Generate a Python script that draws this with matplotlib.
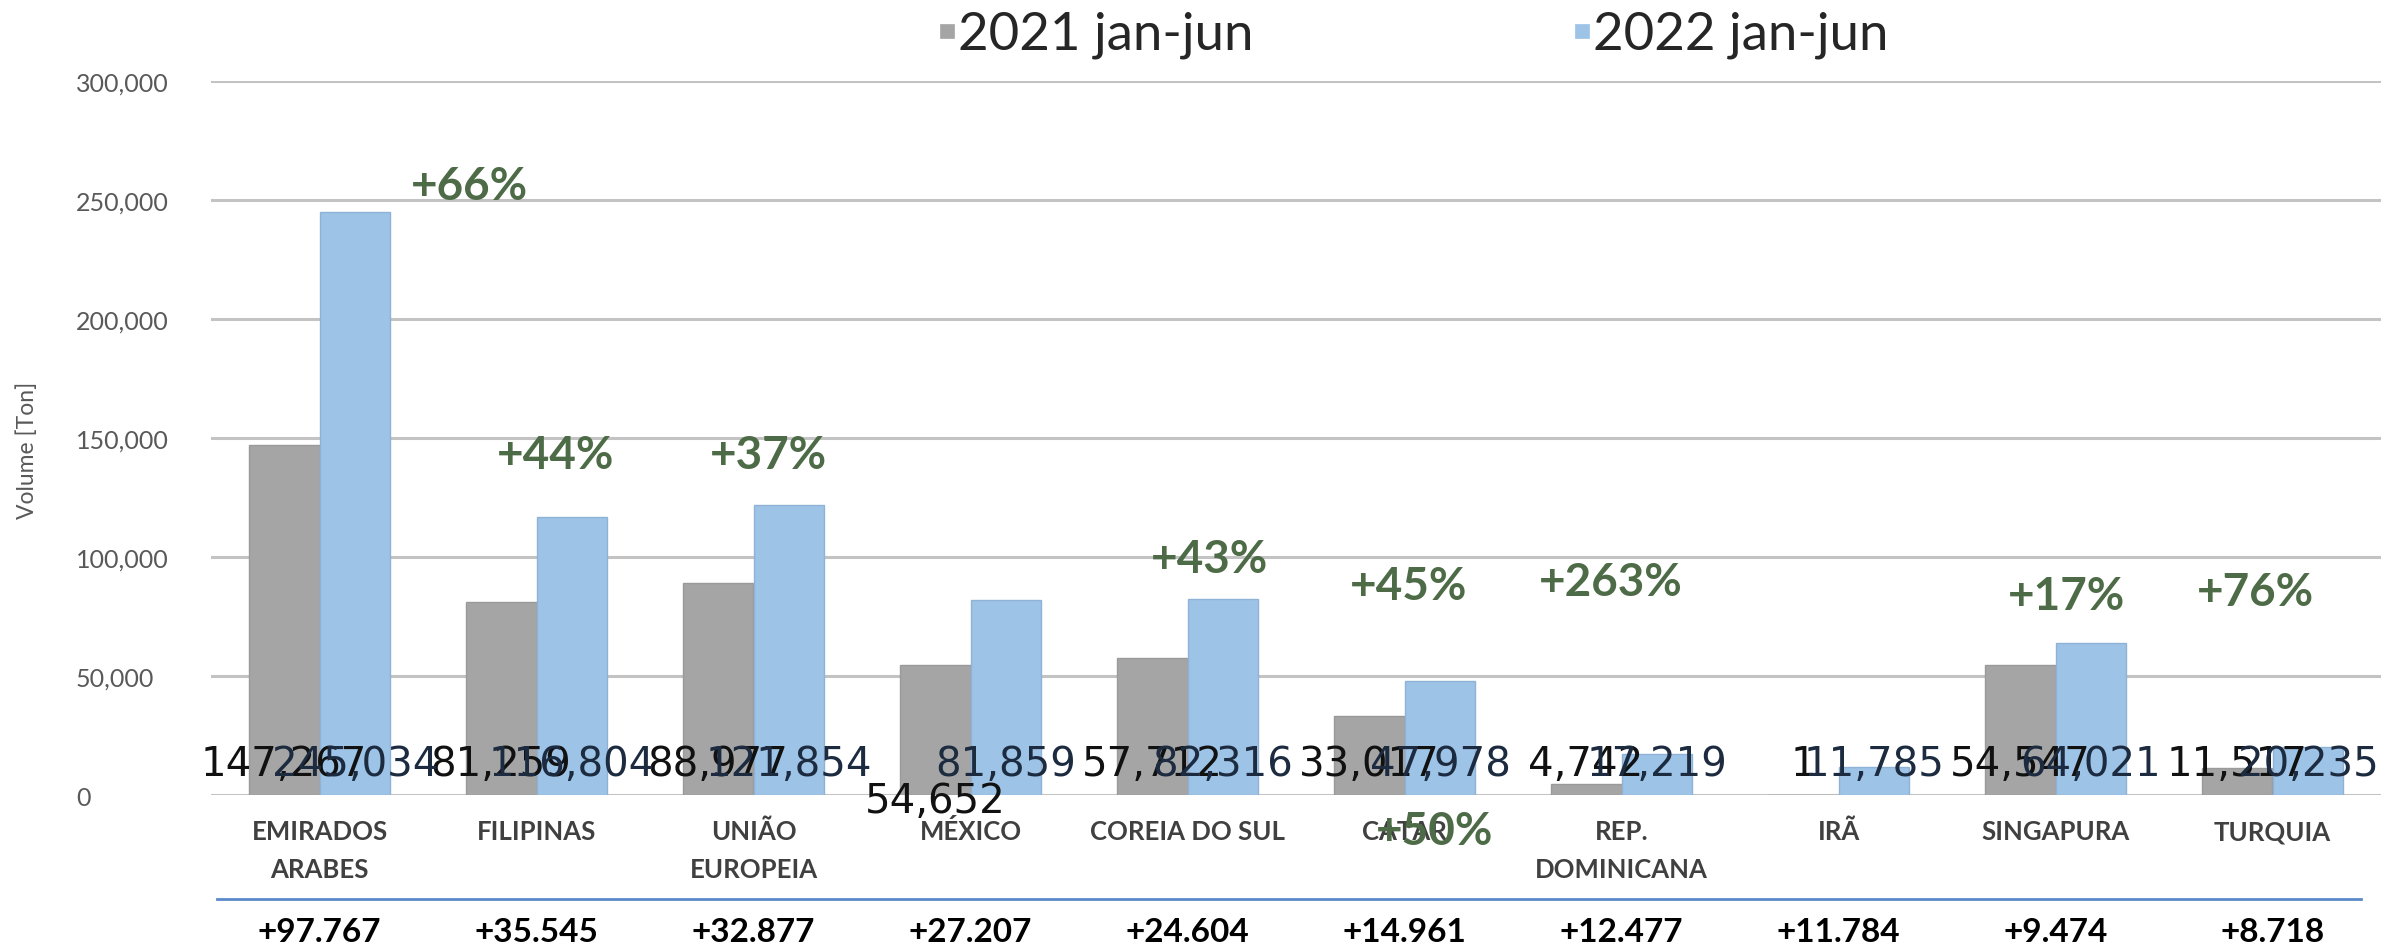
import matplotlib
matplotlib.use("Agg")
import matplotlib.pyplot as plt
from matplotlib.transforms import blended_transform_factory
from matplotlib.patches import Rectangle
from matplotlib.lines import Line2D

# ---------------- data ----------------
categories = ["EMIRADOS\nARABES", "FILIPINAS", "UNIÃO\nEUROPEIA", "MÉXICO",
              "COREIA DO SUL", "CATAR", "REP.\nDOMINICANA", "IRÃ",
              "SINGAPURA", "TURQUIA"]
vol_2021 = [147267, 81259, 88977, 54652, 57712, 33017, 4742, 1, 54547, 11517]
vol_2022 = [245034, 116804, 121854, 81859, 82316, 47978, 17219, 11785, 64021, 20235]
pct_labels = ["+66%", "+44%", "+37%", "+43%", "+45%", "+263%", "+17%", "+76%", "+50%"]
series_names = ["2021 jan-jun", "2022 jan-jun"]
y_ticks = [0, 50000, 100000, 150000, 200000, 250000, 300000]

# ---------------- layout / style ----------------
W, H = 2384, 953
C_GRAY = "#a5a5a5"
C_BLUE = "#9dc3e6"
C_GREEN = "#4e6b47"
bar_w = 0.327
# free-floating percentage labels (x in category units, y in data units)
pct_pos = [(0.69, 255900), (1.09, 142900), (2.07, 142900), (4.10, 99200),
           (5.02, 87800), (5.95, 89500), (8.05, 83600), (8.92, 85300),
           (5.14, -15100)]
label_y = [13000] * len(categories)
label_y_2021 = list(label_y)
label_y_2021[3] = -2500  # México's 2021 label sits lower

fig = plt.figure(figsize=(W / 100, H / 100), dpi=100)
ax = fig.add_axes([211 / W, 1 - 796 / H, (2381 - 211) / W, (796 - 82) / H])

x = list(range(len(categories)))
ax.bar([i - bar_w / 2 for i in x], vol_2021, width=bar_w, color=C_GRAY,
       edgecolor="#9a9a9a", linewidth=1, zorder=2)
ax.bar([i + bar_w / 2 for i in x], vol_2022, width=bar_w, color=C_BLUE,
       edgecolor="#8fb3d6", linewidth=1, zorder=2)

ax.set_xlim(-0.5, len(categories) - 0.5)
ax.set_ylim(0, 300000)
ax.set_yticks(y_ticks)
ax.set_yticklabels([f"{v:,}" for v in y_ticks], family="Lato", fontsize=18,
                   color="#595959", ha="left")
ax.tick_params(axis="y", length=0, pad=(211 - 76) * 0.72)
ax.set_xticks([])
ax.grid(axis="y", color="#c3c3c3", linewidth=2.2, zorder=0)
ax.set_axisbelow(True)
for s in ax.spines.values():
    s.set_visible(False)

fig.text(27 / W, 1 - 450 / H, "Volume [Ton]", rotation=90, family="Lato",
         fontsize=16.5, color="#595959", ha="center", va="center")

# data value labels
for i in x:
    ax.text(i - bar_w / 2, label_y_2021[i], f"{vol_2021[i]:,}", ha="center",
            va="center", family="DejaVu Sans", fontsize=29, color="#111111",
            zorder=4, clip_on=False)
    ax.text(i + bar_w / 2, label_y[i], f"{vol_2022[i]:,}", ha="center",
            va="center", family="DejaVu Sans", fontsize=29, color="#1c2b40",
            zorder=5, clip_on=False)

# percentage labels
for (px, py), t in zip(pct_pos, pct_labels):
    ax.text(px, py, t, ha="center", va="center", family="Lato",
            fontweight="bold", fontsize=33, color=C_GREEN, zorder=6,
            clip_on=False)

# category labels
trans = blended_transform_factory(ax.transData, fig.transFigure)
for i, c in enumerate(categories):
    for k, line in enumerate(c.split("\n")):
        ax.text(i, 1 - (832 + 38 * k) / H, line, transform=trans, ha="center",
                va="center", family="Lato", fontweight="bold", fontsize=18.5,
                color="#404040")

# separator line
fig.add_artist(Line2D([217 / W, 2361 / W], [1 - 900 / H, 1 - 900 / H],
                      color="#5a8ac9", linewidth=2, transform=fig.transFigure))

# difference labels
for i in x:
    d = vol_2022[i] - vol_2021[i]
    txt = "+" + f"{d:,}".replace(",", ".")
    ax.text(i, 1 - 933 / H, txt, transform=trans, ha="center", va="center",
            family="Lato", fontweight="bold", fontsize=24, color="#000000")

# legend
leg_x = [958, 1593]
for name, col, lx in zip(series_names, [C_GRAY, C_BLUE], leg_x):
    s = 14
    fig.add_artist(Rectangle(((lx - 18) / W, 1 - (32 + s / 2) / H), s / W, s / H,
                             transform=fig.transFigure, facecolor=col,
                             edgecolor=col, linewidth=0.5))
    fig.text(lx / W, 1 - 35 / H, name, family="Lato", fontsize=38,
             color="#262626", ha="left", va="center")

fig.savefig("out.png", dpi=100, facecolor="white")
